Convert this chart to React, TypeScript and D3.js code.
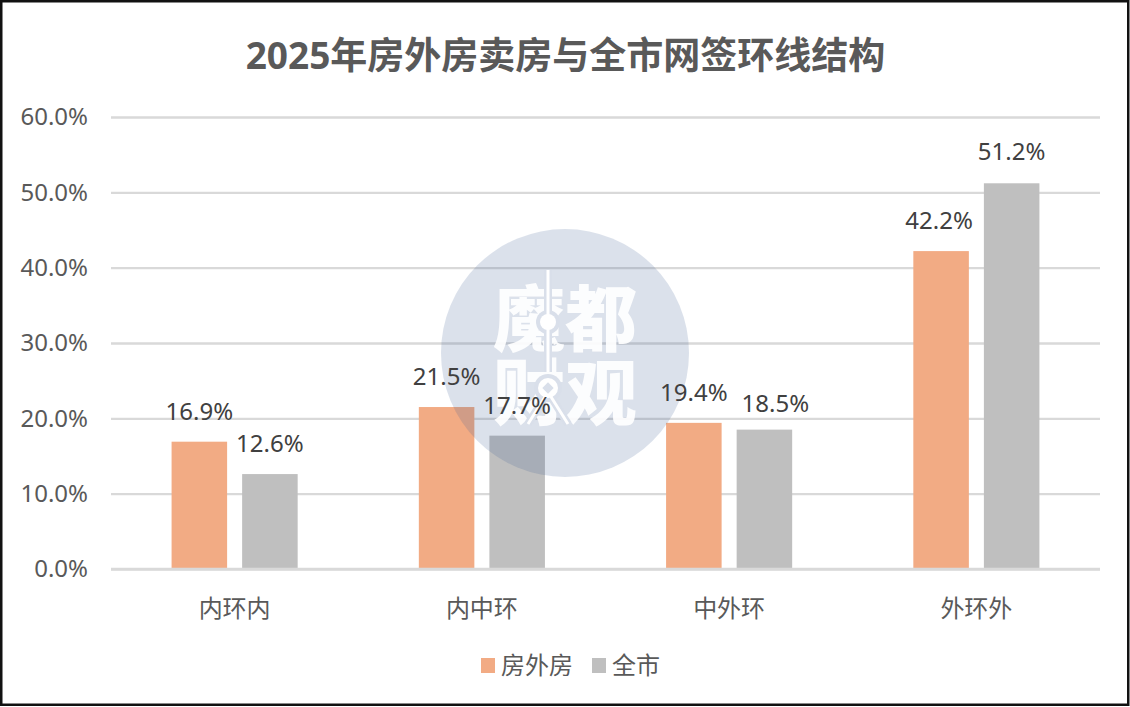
import * as d3 from 'd3';
import { useEffect, useRef } from 'react';

const categories = ['内环内', '内中环', '中外环', '外环外'];
const seriesNames = ['房外房', '全市'];
const fangWaiFang = [16.9, 21.5, 19.4, 42.2];
const quanShi = [12.6, 17.7, 18.5, 51.2];
const yTicks = [0, 10, 20, 30, 40, 50, 60];
const colors = ['#F2AB84', '#BFBFBF'];
const title = '2025年房外房卖房与全市网签环线结构';

const FONT = '"Noto Sans", "Noto Sans CJK SC", sans-serif';
const CJK = '"Noto Sans CJK SC", sans-serif';

// hand-moved data labels, [category][series] -> [dx, dy]
const labelNudge = [
    [[0, 0], [0, 0]],
    [[0, 0], [0, 0]],
    [[0, 0], [11, 4]],
    [[-2, 0], [0, -1]]
];

export default function App() {
    const ref = useRef<any>(null);

    useEffect(() => {
        const svg = d3.select(ref.current);
        svg.selectAll('*').remove();

        const width = 1130;
        const height = 707;
        const margin = { top: 117, right: 30, bottom: 138, left: 111 };

        svg.append('rect').attr('width', width).attr('height', height).attr('fill', '#fff');

        svg.append('text')
            .attr('x', 565.5).attr('y', 69)
            .attr('text-anchor', 'middle')
            .attr('font-family', FONT)
            .attr('font-weight', 700)
            .attr('font-size', 37)
            .attr('fill', '#595959')
            .text(title);

        const y = d3.scaleLinear().domain([0, 60]).range([height - margin.bottom, margin.top]);
        const x0 = d3.scaleBand<string>()
            .domain(categories)
            .range([margin.left, width - margin.right])
            .paddingInner(0.49)
            .paddingOuter(0.245);
        const x1 = d3.scaleBand<string>()
            .domain(seriesNames)
            .range([0, x0.bandwidth()])
            .paddingInner(0.213);

        // gridlines + y labels
        const yAxis = svg.append('g')
            .attr('transform', `translate(${margin.left},0)`)
            .call(d3.axisLeft(y).tickValues(yTicks).tickFormat((d: any) => `${d3.format('.1f')(d)}%`)
                .tickSize(-(width - margin.left - margin.right)).tickPadding(23));
        yAxis.select('.domain').remove();
        yAxis.selectAll('.tick line').attr('stroke', '#D9D9D9').attr('stroke-width', 2.4);
        yAxis.selectAll('.tick text')
            .attr('fill', '#595959').attr('font-family', FONT).attr('font-size', 24);

        const rows = categories.map((c, i) => ({ c, i, values: [fangWaiFang[i], quanShi[i]] }));
        const groups = svg.selectAll('.group').data(rows).join('g')
            .attr('class', 'group')
            .attr('transform', (d: any) => `translate(${x0(d.c)},0)`);

        groups.selectAll('rect').data((d: any) => d.values).join('rect')
            .attr('x', (_: any, i: number) => x1(seriesNames[i]) as number)
            .attr('width', x1.bandwidth())
            .attr('y', (d: any) => y(d))
            .attr('height', (d: any) => y(0) - y(d))
            .attr('fill', (_: any, i: number) => colors[i]);

        // redraw the baseline on top of the bars
        svg.append('line')
            .attr('x1', margin.left).attr('x2', width - margin.right)
            .attr('y1', y(0)).attr('y2', y(0))
            .attr('stroke', '#D9D9D9').attr('stroke-width', 2.4);

        svg.append('g').selectAll('text').data(categories).join('text')
            .attr('x', (d: any) => (x0(d) as number) + x0.bandwidth() / 2)
            .attr('y', 617)
            .attr('text-anchor', 'middle')
            .attr('font-family', CJK)
            .attr('font-size', 24)
            .attr('fill', '#595959')
            .text((d: any) => d);

        // legend
        const legendX = [481, 592];
        const legend = svg.append('g').selectAll('g').data(seriesNames).join('g')
            .attr('transform', (_: any, i: number) => `translate(${legendX[i]},658)`);
        legend.append('rect').attr('width', 14).attr('height', 15)
            .attr('fill', (_: any, i: number) => colors[i]);
        legend.append('text')
            .attr('x', 20).attr('y', 16)
            .attr('font-family', CJK)
            .attr('font-size', 24)
            .attr('fill', '#595959')
            .text((d: any) => d);

        // watermark
        const halo = '#D9DFEA';
        const mark = svg.append('g');
        mark.append('circle').attr('cx', 565).attr('cy', 353).attr('r', 124)
            .attr('fill', '#3F5F95').attr('fill-opacity', 0.19);
        const logo = mark.append('g').attr('fill', '#fff').attr('fill-opacity', 0.92);
        logo.append('text').attr('x', 565).attr('y', 345).attr('text-anchor', 'middle')
            .attr('font-family', CJK).attr('font-weight', 900).attr('font-size', 72)
            .text('魔都');
        logo.append('text').attr('x', 565).attr('y', 419).attr('text-anchor', 'middle')
            .attr('font-family', CJK).attr('font-weight', 900).attr('font-size', 72)
            .text('财观');

        // tower over the lettering
        const tower = mark.append('g');
        tower.append('path')
            .attr('d', 'M548 270V372M548 392L528 424M548 392L568 424')
            .attr('fill', 'none').attr('stroke', halo).attr('stroke-width', 8);
        tower.append('circle').attr('cx', 548).attr('cy', 322).attr('r', 12).attr('fill', halo);
        tower.append('circle').attr('cx', 548).attr('cy', 388).attr('r', 14).attr('fill', halo);
        tower.append('path')
            .attr('d', 'M548 270V372M548 392L528 424M548 392L568 424')
            .attr('fill', 'none').attr('stroke', '#fff').attr('stroke-width', 3);
        tower.append('circle').attr('cx', 548).attr('cy', 322).attr('r', 8).attr('fill', '#fff');
        tower.append('circle').attr('cx', 548).attr('cy', 388).attr('r', 10).attr('fill', '#fff');
        tower.append('rect').attr('x', 544).attr('y', 384).attr('width', 8).attr('height', 8)
            .attr('transform', 'rotate(45 548 388)').attr('fill', halo);

        // value labels sit on top of the watermark
        const labels = svg.selectAll('.labels').data(rows).join('g')
            .attr('class', 'labels')
            .attr('transform', (d: any) => `translate(${x0(d.c)},0)`);
        labels.each(function (row: any) {
            d3.select(this).selectAll('text').data(row.values).join('text')
                .attr('x', (_: any, i: number) => (x1(seriesNames[i]) as number) + x1.bandwidth() / 2 + labelNudge[row.i][i][0])
                .attr('y', (d: any, i: number) => y(d) - 22 + labelNudge[row.i][i][1])
                .attr('text-anchor', 'middle')
                .attr('font-family', FONT)
                .attr('font-size', 24)
                .attr('fill', '#404040')
                .text((d: any) => `${d.toFixed(1)}%`);
        });

        // frame
        svg.append('rect')
            .attr('x', 1.25).attr('y', 1.25)
            .attr('width', width - 3).attr('height', height - 3.5)
            .attr('fill', 'none').attr('stroke', '#111').attr('stroke-width', 2.5);
    }, []);

    return (
        <svg ref={ref} width={1130} height={707} style={{ position: 'absolute', left: 0, top: 0 }}></svg>
    );
}
